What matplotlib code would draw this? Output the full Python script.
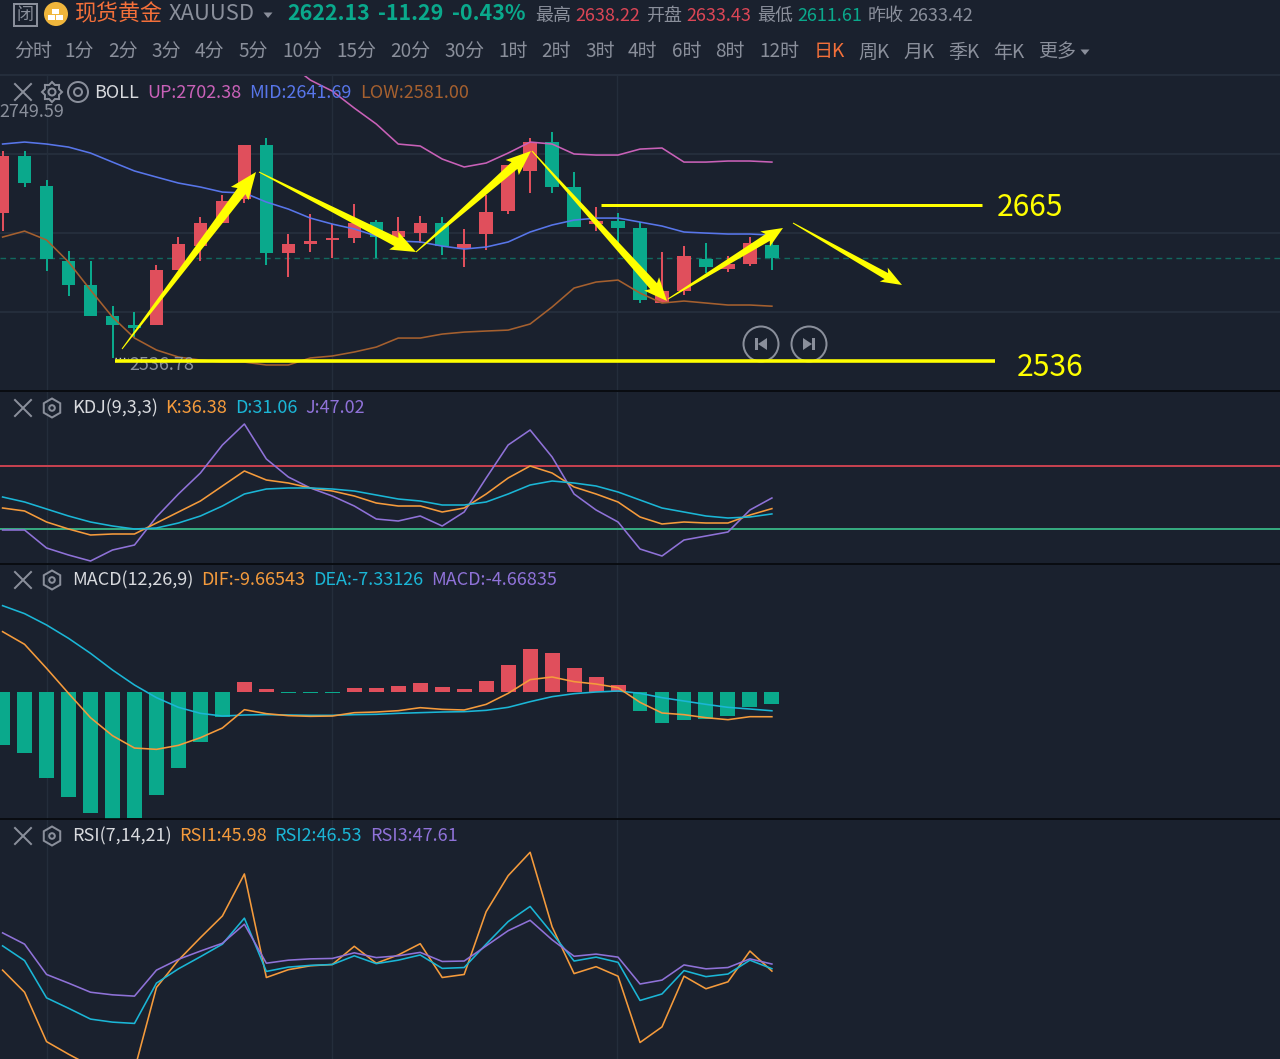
import numpy as np
import matplotlib
matplotlib.use("Agg")
import matplotlib.pyplot as plt
from matplotlib.patches import Circle, Polygon, Rectangle, RegularPolygon

plt.rcParams['font.family'] = ['Noto Sans CJK SC', 'DejaVu Sans']

W, H = 1280, 1059
BG = '#1a212e'
GRID = '#242d3b'
RED = '#e04f5c'
GREEN = '#0aa98c'
GREY = '#8a8f9b'
YELLOW = '#ffff00'
ORANGE = '#f59b3c'
CYAN = '#1bb6d6'
PURPLE = '#8f72d8'

###############################################################################
# daily candles
opens = [2660.5, 2709.2, 2683.6, 2619.5, 2599.1, 2572.6, 2564.9, 2564.9, 2611.9, 2632.3, 2652.0, 2672.5,
         2718.5, 2626.4, 2634.0, 2637.5, 2639.2, 2652.8, 2640.0, 2643.4, 2652.0, 2630.6, 2642.6, 2662.2,
         2696.4, 2721.1, 2682.7, 2651.1, 2653.7, 2647.7, 2583.7, 2593.9, 2621.3, 2612.7, 2617.0, 2633.43]
closes = [2709.2, 2686.1, 2621.3, 2599.1, 2572.6, 2564.9, 2562.4, 2611.9, 2634.0, 2652.0, 2670.8, 2718.5,
          2626.4, 2634.0, 2636.6, 2639.2, 2652.0, 2640.0, 2645.1, 2652.0, 2632.3, 2634.0, 2661.4, 2701.5,
          2721.1, 2682.7, 2648.6, 2653.7, 2647.7, 2586.3, 2593.9, 2623.8, 2614.4, 2617.0, 2634.9, 2622.13]
highs = [2713.4, 2713.4, 2688.7, 2628.1, 2619.5, 2581.1, 2576.0, 2616.1, 2640.0, 2657.1, 2675.9, 2718.5,
         2724.5, 2642.6, 2659.7, 2651.1, 2668.2, 2654.5, 2657.1, 2658.0, 2657.1, 2646.9, 2675.9, 2701.5,
         2724.5, 2729.6, 2695.5, 2665.6, 2660.5, 2652.8, 2627.2, 2632.3, 2634.9, 2623.8, 2640.0, 2638.22]
lows = [2645.1, 2682.7, 2611.0, 2589.7, 2572.6, 2536.78, 2554.7, 2564.9, 2611.9, 2619.5, 2652.0, 2669.0,
        2616.1, 2605.9, 2627.2, 2622.1, 2634.9, 2622.1, 2628.9, 2634.9, 2624.7, 2614.4, 2628.9, 2659.7,
        2677.6, 2677.6, 2648.6, 2645.1, 2634.9, 2583.7, 2583.7, 2590.5, 2609.3, 2610.2, 2615.3, 2611.61]

boll_up = [2788.5, 2774.0, 2764.6, 2750.1, 2736.5, 2719.4, 2717.7, 2706.6, 2699.8, 2703.2, 2711.7, 2721.1,
           2719.4, 2710.9, 2710.0, 2710.0, 2715.1, 2716.0, 2704.0, 2704.0, 2704.9, 2704.9, 2704.0]
boll_mid = [2719.4, 2721.1, 2719.4, 2716.8, 2711.7, 2704.0, 2696.4, 2691.2, 2686.1, 2682.7, 2678.4, 2677.6,
            2669.9, 2663.9, 2656.2, 2651.1, 2646.9, 2640.9, 2636.6, 2635.8, 2632.3, 2629.8, 2631.5, 2635.8,
            2644.3, 2650.3, 2654.5, 2656.2, 2656.2, 2652.8, 2649.4, 2644.3, 2643.4, 2642.6, 2642.6, 2641.69]
boll_low = [2640.0, 2645.1, 2637.5, 2618.7, 2594.8, 2571.7, 2553.8, 2543.6, 2537.6, 2535.0, 2533.3, 2533.3,
            2530.8, 2530.8, 2536.8, 2538.5, 2541.9, 2546.1, 2553.8, 2553.8, 2557.2, 2558.9, 2559.8, 2560.6,
            2565.8, 2580.3, 2596.5, 2601.6, 2603.3, 2592.2, 2583.7, 2585.4, 2583.7, 2582.0, 2582.0, 2581.00]

kdj_k = [37, 34, 23, 16, 10, 11, 11, 22, 33, 44, 59, 74, 65, 62, 57, 54, 49, 42,
         39, 39, 33, 37, 51, 67, 79, 72, 58, 51, 43, 28, 21, 23, 22, 22, 30, 36.38]
kdj_d = [48, 43, 36, 29, 23, 19, 16, 17, 22, 29, 39, 51, 56, 57, 57, 56, 54, 50,
         46, 44, 40, 40, 43, 51, 60, 64, 62, 59, 53, 45, 37, 33, 29, 27, 28, 31.06]
kdj_j = [15, 15, -3, -10, -16, -5, 0, 28, 51, 72, 100, 121, 86, 68, 57, 49, 39, 26,
         24, 29, 19, 33, 67, 100, 115, 88, 51, 35, 23, -4, -11, 5, 9, 13, 35, 47.02]

macd_dif = [23.57, 18.62, 9.24, -0.52, -10.03, -17.06, -21.88, -22.40, -20.83, -17.84, -14.06, -6.90,
            -8.46, -9.24, -9.51, -9.38, -8.07, -7.81, -7.29, -6.12, -6.77, -7.03, -4.82, -0.52,
            4.82, 5.86, 4.04, 3.12, 1.69, -4.04, -8.20, -8.85, -10.03, -10.81, -9.64, -9.66543]
macd_dea = [33.72, 30.6, 26.17, 20.96, 15.10, 8.59, 2.73, -2.21, -5.99, -8.33, -9.38, -8.98,
            -8.85, -8.98, -9.11, -9.11, -8.85, -8.72, -8.33, -8.07, -7.81, -7.68, -7.16, -5.99,
            -3.78, -1.82, -0.65, 0.0, 0.39, -0.52, -2.21, -3.52, -4.82, -5.99, -6.64, -7.33126]
macd_hist = [-20.7, -23.8, -33.5, -40.9, -47.1, -50.0, -49.3, -40.2, -29.8, -19.4, -9.6, 3.9,
             1.0, -0.5, -0.5, -0.5, 1.7, 1.6, 2.2, 3.5, 2.0, 1.2, 4.3, 10.4,
             16.8, 15.2, 9.5, 6.0, 2.6, -7.4, -12.2, -10.9, -10.7, -9.4, -5.7, -4.66835]

rsi1 = [46.2, 41.1, 29.7, 26.8, 24.1, 23.5, 23.2, 42.2, 48.5, 53.7, 58.7, 68.4,
        44.5, 46.3, 47.2, 47.5, 51.7, 47.8, 49.7, 52.3, 44.5, 45.2, 59.7, 68.0,
        73.4, 56.2, 45.4, 47.0, 44.8, 29.5, 33.1, 44.8, 41.9, 43.5, 50.6, 45.98]
rsi2 = [51.8, 48.4, 39.8, 37.4, 34.9, 34.2, 33.9, 43.2, 46.5, 49.3, 52.2, 58.2,
        45.9, 46.9, 47.3, 47.5, 49.5, 47.7, 48.5, 49.7, 46.6, 46.8, 52.2, 57.4,
        60.9, 54.7, 48.3, 49.2, 48.0, 39.2, 40.7, 46.1, 44.7, 45.3, 48.5, 46.53]
rsi3 = [54.8, 52.2, 45.2, 43.2, 41.1, 40.5, 40.2, 46.2, 48.7, 50.6, 52.4, 56.8,
        47.8, 48.5, 48.8, 48.9, 50.2, 49.1, 49.5, 50.3, 48.2, 48.3, 51.8, 55.3,
        57.7, 53.2, 49.4, 49.9, 49.2, 43.0, 43.9, 47.4, 46.5, 46.8, 48.8, 47.61]

period_labels = ['分时', '1分', '2分', '3分', '4分', '5分', '10分', '15分', '20分', '30分', '1时', '2时',
                 '3时', '4时', '6时', '8时', '12时', '日K', '周K', '月K', '季K', '年K', '更多']
period_x = [15, 65, 109, 152, 196, 239, 283, 337, 391, 445, 499, 542,
            586, 629, 673, 716, 760, 815, 859, 904, 949, 994, 1039]

###############################################################################
# panes

fig = plt.figure(figsize=(W / 100, H / 100), dpi=100, facecolor=BG)
x = np.arange(len(closes))
x_first = 2.6    # pixel of the first candle
x_step = 21.98   # pixels per candle
px = 1 / 1.389   # pt per pixel at dpi 100


def pane(top, bottom, y0, y1):
    ax = fig.add_axes([0, 1 - bottom / H, 1, (bottom - top) / H], facecolor=BG)
    ax.set_xlim(-x_first / x_step, (W - x_first) / x_step)
    ax.set_ylim(y0, y1)
    ax.axis('off')
    for i in [2, 15, 27.95]:
        ax.axvline(i, color=GRID, lw=1.4 * px, zorder=0)
    return ax


price_scale = 0.8535  # dollars per pixel, from the 2622.13 and 2536.78 labels
main = pane(75, 391, 2622.13 - (391 - 258) * price_scale, 2622.13 + (258 - 75) * price_scale)
for price in [2622.13 + 104 * price_scale, 2622.13 + 25 * price_scale, 2622.13 - 53.5 * price_scale]:
    main.axhline(price, color=GRID, lw=2 * px, zorder=0)
main.axhline(closes[-1], color='#12695f', lw=1.4 * px, dashes=(4, 3), zorder=1)

for i in x:
    up = closes[i] >= opens[i]
    col = RED if up else GREEN
    main.vlines(i, lows[i], highs[i], color=col, lw=2 * px, zorder=2)
    top = max(opens[i], closes[i])
    bot = min(opens[i], closes[i])
    main.bar(i, top - bot, bottom=bot, width=0.61, color=col, zorder=3)

main.plot(x[13:], boll_up, color='#c961b8', lw=1.6 * px, zorder=4)
main.plot(x, boll_mid, color='#5876ea', lw=1.6 * px, zorder=4)
main.plot(x, boll_low, color='#a5602f', lw=1.6 * px, zorder=4)

kdj = pane(392, 564, -19, 153)
kdj.axhline(79, color='#c4414f', lw=2 * px, zorder=1)
kdj.axhline(16, color='#35a87e', lw=2 * px, zorder=1)
kdj.plot(x, kdj_j, color=PURPLE, lw=1.6 * px, zorder=3)
kdj.plot(x, kdj_k, color=ORANGE, lw=1.6 * px, zorder=3)
kdj.plot(x, kdj_d, color=CYAN, lw=1.6 * px, zorder=3)

macd = pane(565, 819, -49.6, 49.6)
macd.bar(x, macd_hist, width=0.68, color=[RED if v > 0 else GREEN for v in macd_hist], zorder=2)
macd.plot(x, macd_dea, color=CYAN, lw=1.6 * px, zorder=3)
macd.plot(x, macd_dif, color=ORANGE, lw=1.6 * px, zorder=4)

rsi = pane(820, H, 25.69, 80.85)
rsi.plot(x, rsi1, color=ORANGE, lw=1.6 * px, zorder=3)
rsi.plot(x, rsi2, color=CYAN, lw=1.6 * px, zorder=4)
rsi.plot(x, rsi3, color=PURPLE, lw=1.6 * px, zorder=5)

###############################################################################
# everything on top of the chart is placed in screen pixels

top = fig.add_axes([0, 0, 1, 1], zorder=10)
top.set_xlim(0, W)
top.set_ylim(H, 0)
top.axis('off')
top.patch.set_visible(False)


def txt(xp, yp, s, color=GREY, size=18, weight='normal'):
    top.text(xp - 1, yp + 2, s, color=color, fontsize=size * px, va='center', ha='left', fontweight=weight)


def fat_arrow(p0, p1, shaft=4.5, head=11, head_len=24):
    p0 = np.array(p0, float)
    p1 = np.array(p1, float)
    d = (p1 - p0) / np.linalg.norm(p1 - p0)
    n = np.array([-d[1], d[0]])
    neck = p1 - d * head_len
    pts = [p0 - n * 0.5, neck - n * shaft, neck - d * 3 - n * head, p1,
           neck - d * 3 + n * head, neck + n * shaft, p0 + n * 0.5]
    top.add_patch(Polygon(pts, closed=True, color=YELLOW, lw=0, zorder=6))


def close_icon(xp, yp):
    top.plot([xp - 8, xp + 8], [yp - 8, yp + 8], color=GREY, lw=2 * px)
    top.plot([xp - 8, xp + 8], [yp + 8, yp - 8], color=GREY, lw=2 * px)


def hex_icon(xp, yp):
    top.add_patch(RegularPolygon((xp, yp), 6, radius=9.5, fill=False, ec=GREY, lw=2 * px))
    top.add_patch(Circle((xp, yp), 2.8, fill=False, ec=GREY, lw=2 * px))


def triangle(xp, yp, s=4.5, color=GREY):
    top.add_patch(Polygon([(xp - s, yp - 2.5), (xp + s, yp - 2.5), (xp, yp + 3)], color=color, lw=0))


# header
top.add_patch(Rectangle((14, 4), 23, 22, fill=False, ec=GREY, lw=2 * px))
txt(18, 13, '闭', GREY, 17)
top.add_patch(Circle((56, 14), 12, color='#f0b63c', lw=0))
for bx, by in [(52, 9), (48, 15), (56, 15)]:
    top.add_patch(Rectangle((bx, by), 7, 5, color='white', lw=0))
txt(75, 12, '现货黄金', '#f4703a', 22)
txt(170, 12, 'XAUUSD', GREY, 22)
triangle(268, 15)
txt(288, 12, '2622.13', GREEN, 21.5, 'bold')
txt(379, 12, '-11.29', GREEN, 21.5, 'bold')
txt(453, 12, '-0.43%', GREEN, 21.5, 'bold')
txt(536, 14, '最高')
txt(576, 14, '2638.22', '#dc4656')
txt(647, 14, '开盘')
txt(687, 14, '2633.43', '#dc4656')
txt(758, 14, '最低')
txt(798, 14, '2611.61', GREEN)
txt(869, 14, '昨收')
txt(909, 14, '2633.42')

for xp, s in zip(period_x, period_labels):
    txt(xp, 50, s, '#f4703a' if s == '日K' else GREY, 19)
triangle(1085, 52)

# indicator titles
close_icon(23, 92)
gear = []
for k in range(16):
    r = 10 if k % 2 == 0 else 7.6
    a = np.pi * k / 8
    gear.append((52 + r * np.cos(a), 92 + r * np.sin(a)))
top.add_patch(Polygon(gear, closed=True, fill=False, ec=GREY, lw=2 * px))
top.add_patch(Circle((52, 92), 3.5, fill=False, ec=GREY, lw=2 * px))
top.add_patch(Circle((78, 92), 10, fill=False, ec=GREY, lw=2 * px))
top.add_patch(Circle((78, 92), 4, fill=False, ec=GREY, lw=2 * px))
txt(95, 91, 'BOLL', '#d8dade')
txt(148, 91, 'UP:2702.38', '#c961b8')
txt(250, 91, 'MID:2641.69', '#5876ea')
txt(361, 91, 'LOW:2581.00', '#a5602f')
txt(0, 110, '2749.59')

close_icon(23, 408)
hex_icon(52, 408)
txt(73, 406, 'KDJ(9,3,3)', '#d8dade')
txt(166, 406, 'K:36.38', ORANGE)
txt(236, 406, 'D:31.06', CYAN)
txt(306, 406, 'J:47.02', PURPLE)

close_icon(23, 580)
hex_icon(52, 580)
txt(73, 578, 'MACD(12,26,9)', '#d8dade')
txt(202, 578, 'DIF:-9.66543', ORANGE)
txt(314, 578, 'DEA:-7.33126', CYAN)
txt(432, 578, 'MACD:-4.66835', PURPLE)

close_icon(23, 836)
hex_icon(52, 836)
txt(73, 834, 'RSI(7,14,21)', '#d8dade')
txt(180, 834, 'RSI1:45.98', ORANGE)
txt(275, 834, 'RSI2:46.53', CYAN)
txt(371, 834, 'RSI3:47.61', PURPLE)

# pane separators
for yp in [391, 564, 819]:
    top.plot([0, W], [yp, yp], color='#05070a', lw=1.6 * px, zorder=1)
top.plot([0, W], [75, 75], color=GRID, lw=2 * px, zorder=1)

# low marker
txt(130, 363, '2536.78', GREY, 18)
top.plot([115, 128], [358, 358], color='#c8ccd2', lw=1.4 * px, ls=(0, (1, 2)), zorder=2)

# replay buttons
for cx in [761, 809]:
    top.add_patch(Circle((cx, 344), 17.5, fill=False, ec=GREY, lw=2 * px))
top.add_patch(Rectangle((755, 338), 3, 12, color=GREY, lw=0))
top.add_patch(Polygon([(767, 338), (767, 350), (758, 344)], color=GREY, lw=0))
top.add_patch(Rectangle((812, 338), 3, 12, color=GREY, lw=0))
top.add_patch(Polygon([(803, 338), (803, 350), (812, 344)], color=GREY, lw=0))

# drawn levels and arrows
top.plot([601, 982], [205, 205], color=YELLOW, lw=3 * px, solid_capstyle='butt', zorder=6)
top.plot([115, 995], [361, 361], color=YELLOW, lw=3.6 * px, solid_capstyle='butt', zorder=6)
txt(998, 206, '2665', YELLOW, 30)
txt(1018, 365, '2536', YELLOW, 30)

fat_arrow((122, 349), (256, 172), shaft=5, head=11, head_len=24)
fat_arrow((259, 172), (416, 252), shaft=4.5, head=10, head_len=22)
fat_arrow((416, 252), (531, 151), shaft=4.5, head=10, head_len=22)
fat_arrow((532, 151), (667, 301), shaft=4.5, head=10, head_len=20)
fat_arrow((668, 299), (783, 228), shaft=4, head=9, head_len=18)
fat_arrow((793, 223), (902, 285), shaft=3.5, head=8, head_len=18)

fig.savefig('out.png', dpi=100, facecolor=BG)
